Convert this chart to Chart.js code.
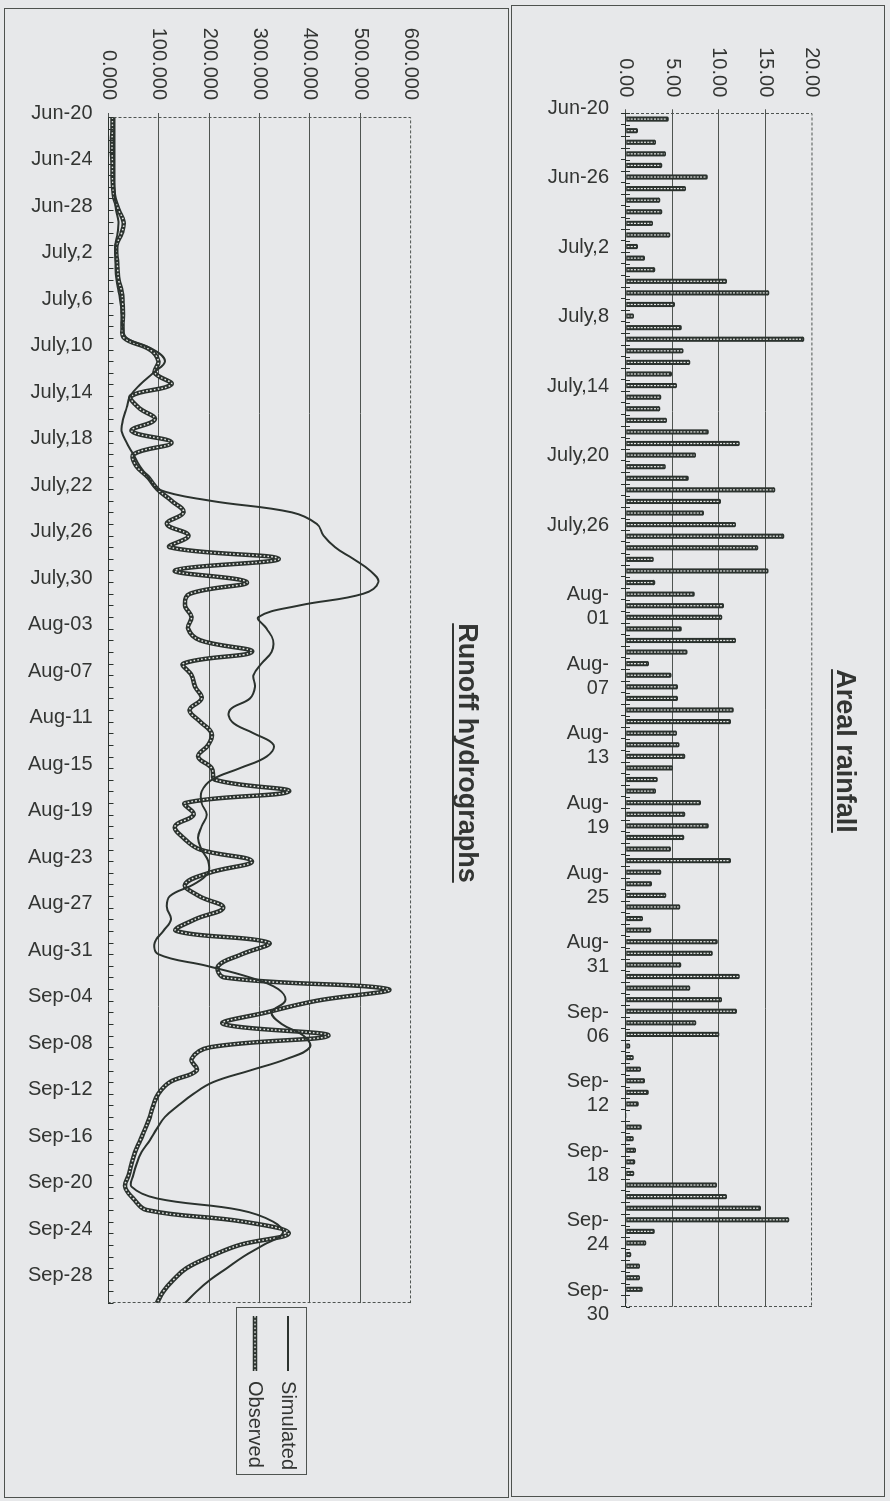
<!DOCTYPE html>
<html>
<head>
<meta charset="utf-8">
<script src="https://cdn.jsdelivr.net/npm/chart.js@4.4.1/dist/chart.umd.min.js"></script>
<style>
  html, body { margin: 0; padding: 0; background: #e7e8ea; }
  body { width: 890px; height: 1501px; position: relative; overflow: hidden; }
  .panel { position: absolute; border: 1px solid #4e524f; box-sizing: border-box; }
  #runoffPanel { left: 4px; top: 8px; width: 505px; height: 1490px; }
  #rainPanel { left: 511px; top: 5px; width: 374px; height: 1492px; }
  .turn { position: absolute; left: 0; top: 0; transform-origin: 0 0; }
  canvas { display: block; }
</style>
</head>
<body>
<div class="panel" id="runoffPanel"><div class="turn" id="runoffTurn"><canvas id="runoffChart"></canvas></div></div>
<div class="panel" id="rainPanel"><div class="turn" id="rainTurn"><canvas id="rainChart"></canvas></div></div>

<script>
// ---- Daily series, 20 June to 30 September (103 days) ----
const days = Array.from({ length: 103 }, (_, i) => i);          // day index from Jun-20
const dayBounds = Array.from({ length: 104 }, (_, i) => i);     // boundaries between daily bars

// Runoff hydrographs
const runoffTickLabels = ['Jun-20', 'Jun-24', 'Jun-28', 'July,2', 'July,6', 'July,10', 'July,14',
  'July,18', 'July,22', 'July,26', 'July,30', 'Aug-03', 'Aug-07', 'Aug-11', 'Aug-15', 'Aug-19',
  'Aug-23', 'Aug-27', 'Aug-31', 'Sep-04', 'Sep-08', 'Sep-12', 'Sep-16', 'Sep-20', 'Sep-24', 'Sep-28'];
const runoffValueTicks = [0, 100, 200, 300, 400, 500, 600];
const runoffValueLabels = ['0.000', '100.000', '200.000', '300.000', '400.000', '500.000', '600.000'];

const simulated = [
  12, 12, 12, 12, 12, 12, 12, 13, 15, 20,
  18, 14, 14, 14, 16, 20, 24, 26, 28, 36,
  89, 112, 89, 63, 43, 36, 29, 26, 36, 49,
  62, 79, 97, 202, 364, 414, 427, 450, 486, 519,
  536, 506, 380, 298, 314, 327, 324, 304, 288, 291,
  281, 241, 245, 288, 328, 314, 261, 205, 185, 185,
  195, 185, 178, 185, 198, 198, 169, 122, 116, 124,
  109, 92, 99, 195, 281, 337, 351, 324, 344, 387,
  400, 354, 281, 208, 169, 139, 112, 96, 82, 66,
  56, 49, 46, 96, 261, 327, 346, 308, 268, 235,
  202, 175, 152];

const observed = [
  8, 8, 7, 7, 8, 8, 9, 12, 20, 30,
  26, 16, 16, 18, 20, 26, 28, 29, 28, 31,
  82, 99, 92, 125, 45, 60, 92, 46, 125, 50,
  55, 79, 97, 125, 149, 116, 159, 122, 338, 132,
  275, 162, 152, 165, 158, 182, 285, 149, 165, 172,
  185, 161, 182, 205, 198, 178, 205, 212, 358, 152,
  169, 132, 149, 182, 285, 200, 152, 180, 228, 172,
  135, 318, 265, 218, 230, 555, 414, 314, 228, 437,
  202, 165, 175, 122, 99, 89, 82, 73, 63, 53,
  46, 40, 33, 49, 76, 268, 358, 261, 202, 155,
  129, 109, 96];

// Areal rainfall
const rainTickLabels = ['Jun-20', 'Jun-26', 'July,2', 'July,8', 'July,14', 'July,20', 'July,26',
  ['Aug-', '01'], ['Aug-', '07'], ['Aug-', '13'], ['Aug-', '19'], ['Aug-', '25'], ['Aug-', '31'],
  ['Sep-', '06'], ['Sep-', '12'], ['Sep-', '18'], ['Sep-', '24'], ['Sep-', '30']];
const rainValueTicks = [0, 5, 10, 15, 20];
const rainValueLabels = ['0.00', '5.00', '10.00', '15.00', '20.00'];

const rainfall = [
  4.55, 1.25, 3.19, 4.27, 3.87, 8.75, 6.42, 3.66, 3.87, 2.87,
  4.73, 1.25, 2.01, 3.12, 10.82, 15.38, 5.23, 0.82, 5.95, 19.14,
  6.16, 6.88, 4.91, 5.45, 3.76, 3.66, 4.37, 8.85, 12.19, 7.49,
  4.23, 6.70, 16.02, 10.18, 8.35, 11.79, 16.99, 14.19, 2.94, 15.30,
  3.12, 7.35, 10.50, 10.32, 5.95, 11.79, 6.59, 2.44, 4.87, 5.56,
  5.56, 11.54, 11.25, 5.45, 5.73, 6.34, 5.02, 3.37, 3.19, 8.03,
  6.34, 8.85, 6.24, 4.80, 11.25, 3.76, 2.76, 4.30, 5.81, 1.79,
  2.69, 9.82, 9.28, 5.91, 12.19, 6.88, 10.29, 11.90, 7.53, 10.00,
  0.43, 0.79, 1.58, 2.01, 2.40, 1.33, 0, 1.65, 0.79, 1.04,
  0.97, 0.86, 9.75, 10.82, 14.48, 17.53, 3.05, 2.15, 0.54, 1.47,
  1.47, 1.76, 0];

// ---- Styling ----
const family = "'Liberation Sans', Arial, sans-serif";
const ink = '#2b322e';
const gridInk = '#4f5451';
const textInk = '#333533';
const light = '#e4e6e4';

Chart.defaults.font.family = family;
Chart.defaults.font.size = 20;
Chart.defaults.color = textInk;

// Each chart is laid out landscape and the holder is turned a quarter clockwise.
function setupTurn(panelId, turnId, canvasId) {
  const panel = document.getElementById(panelId);
  const w = panel.clientWidth, h = panel.clientHeight;
  const turn = document.getElementById(turnId);
  turn.style.width = h + 'px';
  turn.style.height = w + 'px';
  turn.style.transform = 'translate(' + w + 'px, 0) rotate(90deg)';
  const cv = document.getElementById(canvasId);
  cv.width = h; cv.height = w;
  cv.style.width = h + 'px'; cv.style.height = w + 'px';
  return { cv, W: h, H: w };
}

// Plot frame, inside tick marks, underlined heading, legend box, beaded line and hatched bars.
const frame = {
  id: 'frame',
  afterDatasetDraw(chart, args, o) {
    const { ctx, chartArea: a } = chart;
    if (o.chainIndex === args.index) {
      ctx.save();
      ctx.beginPath();
      ctx.rect(a.left, a.top - 4, a.right - a.left, a.bottom - a.top + 8);
      ctx.clip();
      ctx.beginPath();
      args.meta.dataset.path(ctx);
      ctx.lineWidth = 1.5;
      ctx.strokeStyle = light;
      ctx.setLineDash([1.6, 2.2]);
      ctx.stroke();
      ctx.restore();
    }
    if (o.hatchBars && args.meta.type === 'bar') {
      ctx.save();
      ctx.strokeStyle = light;
      ctx.lineWidth = 1.2;
      ctx.setLineDash([2, 1.3]);
      ctx.beginPath();
      for (const el of args.meta.data) {
        if (el.base - el.y < 3) continue;
        ctx.moveTo(el.x, el.base - 1);
        ctx.lineTo(el.x, el.y + 1.2);
      }
      ctx.stroke();
      ctx.restore();
    }
  },
  afterDraw(chart, args, o) {
    const { ctx, chartArea: a } = chart;
    ctx.save();
    // dashed outer edges of the plot
    ctx.strokeStyle = gridInk;
    ctx.lineWidth = 1;
    ctx.setLineDash([3, 2]);
    ctx.beginPath();
    ctx.moveTo(Math.round(a.left) + 0.5, a.bottom); ctx.lineTo(Math.round(a.left) + 0.5, a.top);
    ctx.lineTo(a.right, Math.round(a.top) + 0.5);
    ctx.moveTo(Math.round(a.right) - 0.5, a.top); ctx.lineTo(Math.round(a.right) - 0.5, a.bottom);
    ctx.stroke();
    ctx.setLineDash([]);
    // daily tick marks pointing into the plot
    const xs = chart.scales.x;
    ctx.strokeStyle = ink;
    ctx.beginPath();
    for (const t of xs.ticks) {
      const px = Math.round(xs.getPixelForValue(t.value)) + 0.5;
      ctx.moveTo(px, a.bottom); ctx.lineTo(px, a.bottom - o.innerTick);
    }
    ctx.stroke();
    // heading and its underline
    if (o.heading) {
      const h = o.heading;
      ctx.font = 'bold ' + h.size + 'px ' + family;
      ctx.fillStyle = textInk;
      ctx.textAlign = 'center';
      ctx.textBaseline = 'middle';
      const cx = h.draw ? chart.width / 2 : (chart.titleBlock.left + chart.titleBlock.right) / 2;
      if (h.draw) ctx.fillText(h.text, cx, h.y);
      const tw = ctx.measureText(h.text).width;
      ctx.fillRect(cx - tw / 2, h.underlineY, tw, 2);
    }
    // box round the legend
    if (o.legendBox && chart.legend && chart.legend.legendHitBoxes.length) {
      const hb = chart.legend.legendHitBoxes;
      const l = Math.min(...hb.map(b => b.left)) - 9;
      const r = Math.max(...hb.map(b => b.left + b.width)) + 4;
      const t = Math.min(...hb.map(b => b.top)) - 9;
      const bm = Math.max(...hb.map(b => b.top + b.height)) + 8;
      ctx.strokeStyle = gridInk;
      ctx.lineWidth = 1;
      ctx.strokeRect(Math.round(l) + 0.5, Math.round(t) + 0.5, Math.round(r - l), Math.round(bm - t));
    }
    ctx.restore();
  }
};

// Legend samples
function lineSample(beaded) {
  const c = document.createElement('canvas');
  c.width = 55; c.height = 8;
  const g = c.getContext('2d');
  g.strokeStyle = ink;
  g.lineWidth = beaded ? 4.5 : 2;
  g.beginPath(); g.moveTo(0, 4); g.lineTo(55, 4); g.stroke();
  if (beaded) {
    g.strokeStyle = light; g.lineWidth = 1.5; g.setLineDash([1.6, 2.2]);
    g.beginPath(); g.moveTo(0, 4); g.lineTo(55, 4); g.stroke();
  }
  return c;
}
const legendSamples = [lineSample(false), lineSample(true)];

// ---- Runoff hydrographs ----
const hydro = setupTurn('runoffPanel', 'runoffTurn', 'runoffChart');
const hydroTopPad = -10;
const hydroBottomPad = 20;
new Chart(hydro.cv, {
  type: 'line',
  data: {
    datasets: [
      { label: 'Simulated', data: days.map(d => ({ x: d, y: simulated[d] })),
        borderColor: ink, borderWidth: 2, pointRadius: 0, tension: 0.4, fill: false },
      { label: 'Observed', data: days.map(d => ({ x: d, y: observed[d] })),
        borderColor: ink, borderWidth: 4.5, pointRadius: 0, tension: 0.4, fill: false }
    ]
  },
  options: {
    responsive: false, animation: false, events: [], devicePixelRatio: 1,
    layout: { padding: { left: 17, right: 17, top: hydroTopPad, bottom: hydroBottomPad } },
    scales: {
      x: {
        type: 'linear', min: 0, max: 102, offset: false,
        afterBuildTicks: s => { s.ticks = days.map(v => ({ value: v })); },
        afterFit: s => { s.height = hydro.H - hydroBottomPad - 399.5; },
        ticks: {
          autoSkip: false, minRotation: 90, maxRotation: 90, padding: 16, labelOffset: -4,
          color: textInk, font: { size: 20 },
          callback: v => (v % 4 === 0 ? runoffTickLabels[v / 4] : '')
        },
        grid: { drawOnChartArea: false, drawTicks: false, offset: false },
        border: { display: true, color: ink, width: 1 }
      },
      y: {
        min: 0, max: 600,
        afterBuildTicks: s => { s.ticks = runoffValueTicks.map(v => ({ value: v })); },
        afterFit: s => { s.width = 108 - 17; },
        ticks: { padding: 13, color: textInk, font: { size: 20 },
          callback: (v, i) => runoffValueLabels[i] },
        grid: { color: c => (c.tick && c.tick.value === 600 ? 'rgba(0,0,0,0)' : gridInk),
          lineWidth: 1, tickLength: 4 },
        border: { display: false }
      }
    },
    plugins: {
      title: { display: true, text: 'Runoff hydrographs', color: textInk,
        font: { size: 27, weight: 'bold' }, padding: { top: 25.6 - hydroTopPad, bottom: 39.4 } },
      legend: {
        position: 'right',
        labels: {
          usePointStyle: true, pointStyleWidth: 55, padding: 13, color: textInk, font: { size: 20 },
          generateLabels: chart => Chart.defaults.plugins.legend.labels.generateLabels(chart)
            .map((it, i) => Object.assign(it, { pointStyle: legendSamples[i] }))
        }
      },
      tooltip: { enabled: false },
      frame: { innerTick: 5, chainIndex: 1, legendBox: true,
        heading: { text: 'Runoff hydrographs', size: 27, draw: false, underlineY: 54 } }
    }
  },
  plugins: [frame]
});

// ---- Areal rainfall ----
const rain = setupTurn('rainPanel', 'rainTurn', 'rainChart');

new Chart(rain.cv, {
  type: 'bar',
  data: {
    datasets: [{
      label: 'Areal rainfall',
      data: rainfall.map((v, k) => ({ x: k + 0.5, y: v })),
      backgroundColor: ink, borderWidth: 0,
      barThickness: 4.5, borderRadius: 1.5
    }]
  },
  options: {
    responsive: false, animation: false, events: [], devicePixelRatio: 1,
    layout: { padding: { left: 0, right: rain.W - 1300.7, top: 72, bottom: 0 } },
    scales: {
      x: {
        type: 'linear', min: 0, max: 103, offset: false,
        afterBuildTicks: s => { s.ticks = dayBounds.map(v => ({ value: v })); },
        afterFit: s => { s.height = rain.H - 258; },
        ticks: {
          autoSkip: false, minRotation: 90, maxRotation: 90, padding: 12, labelOffset: -5,
          color: textInk, font: { size: 20 },
          callback: v => (v % 6 === 0 && v / 6 < rainTickLabels.length ? rainTickLabels[v / 6] : '')
        },
        grid: { drawOnChartArea: false, drawTicks: true, tickLength: 5, tickColor: ink, offset: false },
        border: { display: true, color: ink, width: 1 }
      },
      y: {
        min: 0, max: 20,
        afterBuildTicks: s => { s.ticks = rainValueTicks.map(v => ({ value: v })); },
        afterFit: s => { s.width = 107.3; },
        ticks: { padding: 12, color: textInk, font: { size: 20 },
          callback: (v, i) => rainValueLabels[i] },
        grid: { color: c => (c.tick && c.tick.value === 20 ? 'rgba(0,0,0,0)' : gridInk),
          lineWidth: 1, tickLength: 4 },
        border: { display: false }
      }
    },
    plugins: {
      title: { display: false },
      legend: { display: false },
      tooltip: { enabled: false },
      frame: { innerTick: 4, chainIndex: -1, legendBox: false, hatchBars: true,
        heading: { text: 'Areal rainfall', size: 27, draw: true, y: 39.5, underlineY: 51 } }
    }
  },
  plugins: [frame]
});
</script>
</body>
</html>
